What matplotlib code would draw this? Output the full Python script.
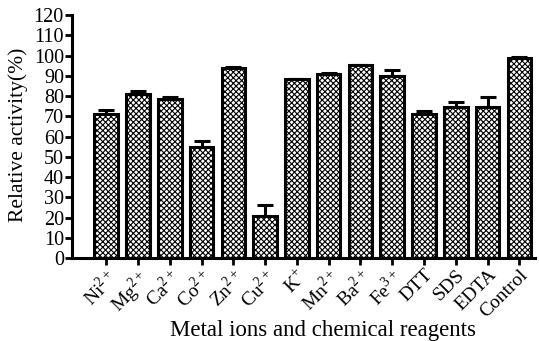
import matplotlib
import numpy as np

matplotlib.use("Agg")
from matplotlib import pyplot as plt  # noqa: E402

plt.rcParams["font.family"] = ["Liberation Serif", "DejaVu Serif"]
plt.rcParams["mathtext.fontset"] = "custom"
plt.rcParams["mathtext.rm"] = "Liberation Serif"
plt.rcParams["hatch.linewidth"] = 0.8

labels = [r"Ni$^{2+}$", r"Mg$^{2+}$", r"Ca$^{2+}$", r"Co$^{2+}$", r"Zn$^{2+}$", r"Cu$^{2+}$",
          r"K$^{+}$", r"Mn$^{2+}$", r"Ba$^{2+}$", r"Fe$^{3+}$", "DTT", "SDS", "EDTA", "Control"]
activity = [71, 81, 78.5, 55, 94, 21, 88.5, 91, 95.5, 90, 71, 74.5, 74.5, 99]
error = [2, 1.5, 1, 3, 0.5, 5, 0, 0.5, 0, 3, 1.5, 2.5, 5, 0.5]

fig = plt.figure(figsize=(5.39, 3.41), dpi=100)
ax = fig.add_axes([0.134, 0.243, 0.859, 0.713])

x = np.arange(len(labels))
ax.bar(x, activity, width=0.74, color="white", edgecolor="black", linewidth=2.2,
       hatch="xxxxxx", zorder=2)
ax.errorbar(x, activity, yerr=[np.zeros(len(error)), error], fmt="none", ecolor="black",
            elinewidth=2.2, capsize=5.5, capthick=2.2, zorder=1)

ax.set_xlim(-1.07, 13.5)
ax.set_ylim(0, 120)
ax.set_yticks(np.arange(0, 121, 10))
ax.set_xticks(x)
ax.set_xticklabels(labels, rotation=45, ha="right", rotation_mode="anchor", fontsize=14)
ax.tick_params(axis="y", labelsize=14.5, width=2, length=5, pad=1)
ax.tick_params(axis="x", width=2, length=5, pad=1)
for side in ("top", "right"):
    ax.spines[side].set_visible(False)
for side in ("left", "bottom"):
    ax.spines[side].set_linewidth(2.2)

fig.text(0.033, 0.605, "Relative activity(%)", fontsize=15.5, rotation=90,
         ha="center", va="center")
fig.text(0.599, 0.03, "Metal ions and chemical reagents", fontsize=16.5,
         ha="center", va="center")

fig.savefig("out.png", dpi=100)
